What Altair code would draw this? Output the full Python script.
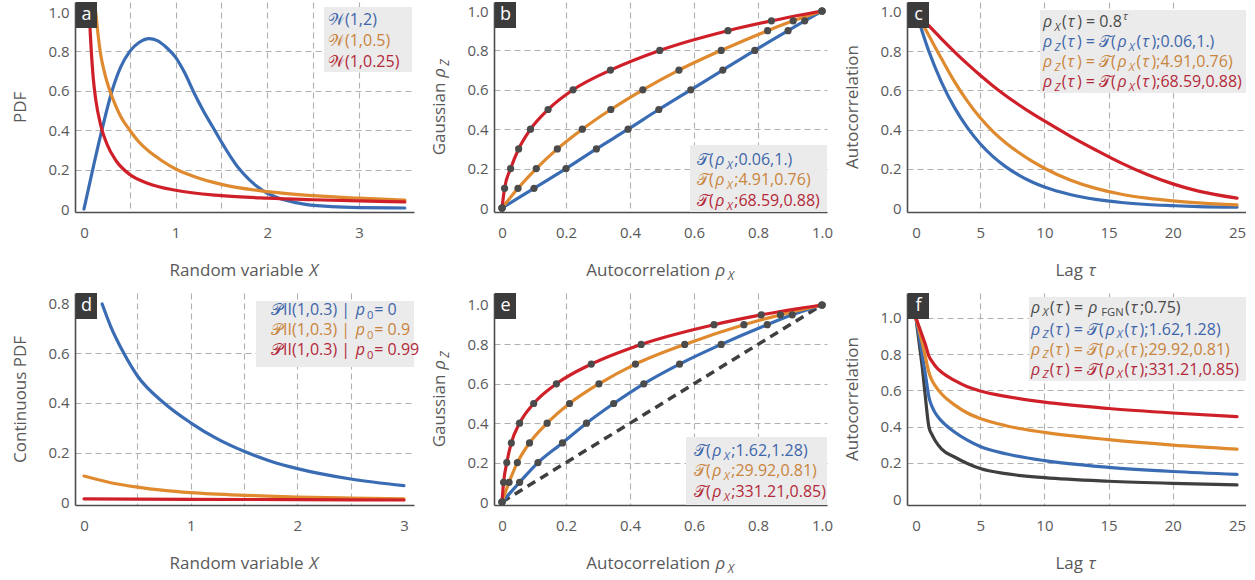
import altair as alt
import pandas as pd

FONT = "Open Sans"
AX_GRAY = "#595959"
BLUE, ORANGE, RED, BLACK = "#3a6cb4", "#df8a2f", "#cf2029", "#3f3f3f"
T_BLUE, T_ORANGE, T_RED, T_GRAY = "#3e66aa", "#c9843d", "#b3293a", "#4a4a4a"
KEY_FILL = "#ebebeb"
TAG_FILL = "#3b3b3b"
DOT = "#4b4b4b"

# ---------------- (a) Weibull densities ----------------
a_x_w12 = [0, 0.1, 0.2, 0.3, 0.4, 0.5, 0.6, 0.71, 0.8, 0.9, 1.0, 1.1, 1.2, 1.3, 1.4,
           1.5, 1.6, 1.7, 1.8, 1.9, 2.0, 2.1, 2.2, 2.4, 2.7, 3.0, 3.5]
a_y_w12 = [0, 0.21, 0.41, 0.59, 0.72, 0.80, 0.845, 0.865, 0.855, 0.82, 0.77, 0.69, 0.59, 0.50, 0.42,
           0.34, 0.265, 0.20, 0.15, 0.11, 0.08, 0.06, 0.045, 0.025, 0.012, 0.007, 0.005]
a_x_w105 = [0.128, 0.15, 0.18, 0.22, 0.29, 0.35, 0.4, 0.5, 0.6, 0.73, 0.85, 1.0, 1.2, 1.5, 2.0, 2.5, 3.0, 3.5]
a_y_w105 = [1.0, 0.90, 0.79, 0.70, 0.59, 0.52, 0.47, 0.40, 0.34, 0.285, 0.245, 0.203, 0.165, 0.125, 0.088, 0.068, 0.055, 0.045]
a_x_w1025 = [0.058, 0.07, 0.08, 0.1, 0.13, 0.18, 0.25, 0.35, 0.5, 0.7, 1.0, 1.5, 2.0, 2.5, 3.0, 3.5]
a_y_w1025 = [1.0, 0.88, 0.80, 0.67, 0.55, 0.43, 0.33, 0.245, 0.175, 0.13, 0.095, 0.068, 0.055, 0.047, 0.041, 0.036]

# ---------------- (b) transformation curves, first set ----------------
rho_z_levels = [0, 0.1, 0.2, 0.3, 0.4, 0.5, 0.6, 0.7, 0.8, 0.9, 0.95, 1.0]
b_x_blue = [0, 0.10, 0.20, 0.295, 0.394, 0.49, 0.59, 0.69, 0.79, 0.894, 0.946, 1.0]
b_x_orange = [0, 0.05, 0.107, 0.173, 0.251, 0.34, 0.44, 0.553, 0.685, 0.83, 0.91, 1.0]
b_x_red = [0, 0.008, 0.027, 0.052, 0.089, 0.144, 0.222, 0.339, 0.493, 0.706, 0.842, 1.0]

# ---------------- (c) autocorrelation for rho_X = 0.8^tau ----------------
c_tau = [0, 1, 2, 3, 4, 5, 6, 7, 8, 9, 10, 12, 14, 16, 18, 20, 22, 25]
c_blue = [1.0, 0.80, 0.64, 0.512, 0.41, 0.328, 0.262, 0.21, 0.168, 0.134, 0.107,
          0.069, 0.044, 0.028, 0.018, 0.012, 0.007, 0.004]
c_orange = [1.0, 0.88, 0.76, 0.645, 0.545, 0.46, 0.39, 0.332, 0.283, 0.24, 0.203,
            0.143, 0.10, 0.07, 0.05, 0.036, 0.026, 0.016]
c_red = [1.0, 0.93, 0.862, 0.797, 0.735, 0.677, 0.623, 0.573, 0.527, 0.484, 0.444,
         0.367, 0.296, 0.229, 0.171, 0.123, 0.086, 0.05]

# ---------------- (d) Pareto II continuous parts ----------------
d_x_p0 = [0.17, 0.25, 0.375, 0.5, 0.75, 1.0, 1.25, 1.5, 1.75, 2.0, 2.5, 3.0]
d_y_p0 = [0.80, 0.71, 0.60, 0.51, 0.40, 0.32, 0.255, 0.205, 0.165, 0.135, 0.093, 0.066]
d_x_p09 = [0, 0.25, 0.5, 0.75, 1.0, 1.5, 2.0, 2.5, 3.0]
d_y_p09 = [0.105, 0.078, 0.06, 0.047, 0.038, 0.027, 0.02, 0.016, 0.013]
d_x_p099 = [0, 1, 2, 3]
d_y_p099 = [0.013, 0.011, 0.0095, 0.008]

# ---------------- (e) transformation curves, second set ----------------
e_x_blue = [0, 0.055, 0.1125, 0.189, 0.264, 0.349, 0.443, 0.555, 0.685, 0.829, 0.907, 1.0]
e_x_orange = [0, 0.022, 0.048, 0.086, 0.141, 0.211, 0.303, 0.417, 0.571, 0.756, 0.87, 1.0]
e_x_red = [0, 0.005, 0.015, 0.029, 0.055, 0.099, 0.17, 0.279, 0.435, 0.6625, 0.81, 1.0]
e_diag = [0, 1]

# ---------------- (f) fractional Gaussian noise autocorrelation ----------------
f_tau = [0, 0.25, 0.5, 0.75, 1, 1.25, 1.5, 2, 3, 4, 5, 7, 10, 15, 20, 25]
f_black = [1.0, 0.86, 0.72, 0.55, 0.40, 0.355, 0.322, 0.276, 0.232, 0.196, 0.168, 0.14, 0.118, 0.098, 0.086, 0.078]
f_blue = [1.0, 0.9, 0.79, 0.68, 0.565, 0.51, 0.475, 0.43, 0.37, 0.325, 0.29, 0.25, 0.212, 0.175, 0.152, 0.136]
f_orange = [1.0, 0.93, 0.86, 0.78, 0.70, 0.655, 0.625, 0.58, 0.52, 0.475, 0.445, 0.405, 0.368, 0.328, 0.298, 0.276]
f_red = [1.0, 0.95, 0.9, 0.85, 0.79, 0.76, 0.735, 0.70, 0.655, 0.62, 0.597, 0.567, 0.535, 0.5, 0.475, 0.455]

# ---------------- text helpers ----------------
CHAR_EM = {
    " ": 0.26, "(": 0.3, ")": 0.3, ",": 0.245, ".": 0.266, ";": 0.266, "=": 0.572,
    "|": 0.54, "I": 0.28, "X": 0.6, "Z": 0.58, "F": 0.55, "G": 0.7, "N": 0.78,
    "P": 0.618, "D": 0.716, "L": 0.533, "C": 0.63, "R": 0.62, "A": 0.633,
    "a": 0.556, "b": 0.613, "c": 0.476, "d": 0.613, "e": 0.561, "g": 0.548, "i": 0.253,
    "l": 0.253, "m": 0.93, "n": 0.614, "o": 0.604, "p": 0.64, "r": 0.408, "s": 0.477,
    "t": 0.353, "u": 0.614, "v": 0.5, "ρ": 0.66, "τ": 0.53,
    "𝒯": 0.78, "𝒲": 1.05, "𝒫": 0.8,
}
for _d in "0123456789":
    CHAR_EM[_d] = 0.572

SEG_GAP = 0.9  # breathing room between consecutive rich-text pieces


def seg_width(txt, size):
    return sum(CHAR_EM.get(ch, 0.56) for ch in txt) * size


def set_line(segs, size, color, x0=None, y0=None, cx=None, cy=None, angle=0):
    """Lay out rich-text pieces (text, style, shift, lead) one after another."""
    sizes = [size * (0.7 if sg[2] else 1.0) for sg in segs]
    total = sum(seg_width(sg[0], s) + SEG_GAP + sg[3] for sg, s in zip(segs, sizes)) - SEG_GAP
    if angle == 0:
        if x0 is None:
            x0 = cx - total / 2
    else:
        if y0 is None:
            y0 = cy + total / 2
    rows, s = [], 0.0
    for (txt, style, shift, lead), fs in zip(segs, sizes):
        s += lead
        off = {"": 0.0, "sub": 0.24 * size, "sup": -0.42 * size}[shift]
        if angle == 0:
            px, py = x0 + s, y0 + off
        else:
            px, py = x0 + off, y0 - s
        rows.append(dict(px=px, py=py, t=txt, style=style, fs=fs, color=color, angle=angle))
        s += seg_width(txt, fs) + SEG_GAP
    return rows


def P(t, st="n", sh="", lead=0.0):
    return (t, st, sh, lead)


RHO_X = [P("ρ", "i"), P("X", "i", "sub")]
RHO_Z = [P("ρ", "i"), P("Z", "i", "sub")]
TAU = P("τ", "i")


def t_line(params):
    return [P("𝒯(")] + RHO_X + [P(";" + params + ")")]


def tz_line(params):
    return (RHO_Z + [P("("), TAU, P(") = 𝒯(")] + RHO_X +
            [P("("), TAU, P(");" + params + ")")])


FMT_INT = "format(datum.value, 'd')"
FMT_DEC = "(datum.value == 0 ? '0' : format(datum.value, '.1f'))"
KEY_SIZE = 16.0
X_LABEL_PAD = 13


def guide_layers(xs, ys, xdom, ydom, xt, xg, xfmt, yt, yg, yfmt):
    """Two invisible layers: one carries the dashed grid, the other the labelled axes."""
    mid = pd.DataFrame({"x": [sum(xdom) / 2], "y": [sum(ydom) / 2]})
    grid = alt.Chart(mid).mark_point(opacity=0, size=1).encode(
        x=alt.X("x:Q", scale=xs, axis=alt.Axis(values=xg, grid=True, labels=False, domain=False,
                                               ticks=False, title=None, orient="bottom")),
        y=alt.Y("y:Q", scale=ys, axis=alt.Axis(values=yg, grid=True, labels=False, domain=False,
                                               ticks=False, title=None, orient="left")))
    lab = alt.Chart(mid).mark_point(opacity=0, size=1).encode(
        x=alt.X("x:Q", scale=xs, axis=alt.Axis(values=xt, grid=False, labelExpr=xfmt, title=None,
                                               orient="bottom", labelPadding=X_LABEL_PAD,
                                               labelFlush=False, labelOverlap=False)),
        y=alt.Y("y:Q", scale=ys, axis=alt.Axis(values=yt, grid=False, labelExpr=yfmt, title=None,
                                               orient="left", labelPadding=6,
                                               labelFlush=False, labelOverlap=False)))
    return [grid, lab]


ONE = pd.DataFrame({"k": [0]})


def panel(tag, w, h, xdom, ydom, xaxis, yaxis, curves, dots, key_box, key_lines,
          xtitle, ytitle, dashed=None):
    xs = alt.Scale(domain=xdom, nice=False, zero=False)
    ys = alt.Scale(domain=ydom, nice=False, zero=False)
    xt, xg, xfmt = xaxis
    yt, yg, yfmt = yaxis
    layers = guide_layers(xs, ys, xdom, ydom, xt, xg, xfmt, yt, yg, yfmt)
    enc = dict(x=alt.X("x:Q", scale=xs, axis=None), y=alt.Y("y:Q", scale=ys, axis=None))
    if dashed is not None:
        df = pd.DataFrame({"x": dashed[0], "y": dashed[1]})
        layers.append(alt.Chart(df).mark_line(color=BLACK, strokeWidth=3.5, strokeDash=[9, 6])
                      .encode(**enc))
    for cx_, cy_, col in curves:
        df = pd.DataFrame({"x": cx_, "y": cy_})
        layers.append(alt.Chart(df).mark_line(color=col, strokeWidth=3.2, interpolate="monotone",
                                               strokeCap="round", clip=True).encode(**enc))
    if dots:
        dx, dy = [], []
        for xx, yy in dots:
            dx += xx
            dy += yy
        df = pd.DataFrame({"x": dx, "y": dy})
        layers.append(alt.Chart(df).mark_circle(color=DOT, size=52, opacity=1).encode(**enc))
    # key background
    bx0, bx1, by0, by1 = key_box
    layers.append(alt.Chart(ONE).mark_rect(color=KEY_FILL)
                  .encode(x=alt.value(bx0), x2=alt.value(bx1), y=alt.value(by0), y2=alt.value(by1)))
    # panel tag
    layers.append(alt.Chart(ONE).mark_rect(color=TAG_FILL)
                  .encode(x=alt.value(1), x2=alt.value(22), y=alt.value(0), y2=alt.value(26)))
    layers.append(alt.Chart(ONE).mark_text(text=tag, color="white", fontSize=18, font=FONT,
                                           align="center", baseline="middle")
                  .encode(x=alt.value(11.5), y=alt.value(12.5)))
    # rich text: key lines and axis titles
    rows = []
    for segs, color, x0, yc in key_lines:
        rows += set_line(segs, KEY_SIZE, color, x0=x0, y0=yc + 6)
    rows += set_line(xtitle, 17, AX_GRAY, cx=w / 2, y0=h + 64)
    rows += set_line(ytitle, 17, AX_GRAY, x0=-49, cy=h / 2, angle=270)
    tdf = pd.DataFrame(rows)
    tdf["vx"] = xdom[0] + tdf["px"] / w * (xdom[1] - xdom[0])
    tdf["vy"] = ydom[1] - tdf["py"] / h * (ydom[1] - ydom[0])
    for (style, fs, color, angle), g in tdf.groupby(["style", "fs", "color", "angle"]):
        layers.append(alt.Chart(g.reset_index(drop=True)).mark_text(
            font=FONT, fontSize=float(fs), fontStyle="italic" if style == "i" else "normal",
            color=color, angle=int(angle), align="left", baseline="alphabetic")
            .encode(x=alt.X("vx:Q", scale=xs, axis=None),
                    y=alt.Y("vy:Q", scale=ys, axis=None), text="t:N"))
    return (alt.layer(*layers).properties(width=w, height=h)
            .resolve_axis(x="independent", y="independent"))


Y01 = [0, 0.2, 0.4, 0.6, 0.8, 1.0]
GRID_IN = [0.2, 0.4, 0.6, 0.8]
LAGS = [0, 5, 10, 15, 20, 25]
LAG_GRID = [5, 10, 15, 20]

pa = panel(
    "a", 339, 210, [-0.098, 3.6], [-0.0152, 1.0508],
    ([0, 1, 2, 3], [0.5, 1, 1.5, 2, 2.5, 3], FMT_INT),
    (Y01, GRID_IN, FMT_DEC),
    [(a_x_w12, a_y_w12, BLUE), (a_x_w105, a_y_w105, ORANGE), (a_x_w1025, a_y_w1025, RED)],
    None, (249, 337, 5, 70),
    [([P("𝒲(1,2)")], T_BLUE, 253, 16.5),
     ([P("𝒲(1,0.5)")], T_ORANGE, 253, 38),
     ([P("𝒲(1,0.25)")], T_RED, 253, 58.5)],
    [P("Random variable "), P("X", "i")], [P("PDF")])

pb = panel(
    "b", 333, 210, [-0.025, 1.0156], [-0.0203, 1.0457],
    (Y01, GRID_IN, FMT_DEC),
    (Y01, GRID_IN, FMT_DEC),
    [(b_x_blue, rho_z_levels, BLUE), (b_x_orange, rho_z_levels, ORANGE), (b_x_red, rho_z_levels, RED)],
    [(b_x_blue, rho_z_levels), (b_x_orange, rho_z_levels), (b_x_red, rho_z_levels)],
    (196, 333, 143, 210),
    [(t_line("0.06,1."), T_BLUE, 203, 157),
     (t_line("4.91,0.76"), T_ORANGE, 203, 177),
     (t_line("68.59,0.88"), T_RED, 203, 198)],
    [P("Autocorrelation ")] + RHO_X, [P("Gaussian ")] + RHO_Z)

pc = panel(
    "c", 339, 210, [-0.701, 25.70], [-0.0204, 1.051],
    (LAGS, LAG_GRID, FMT_INT),
    (Y01, GRID_IN, FMT_DEC),
    [(c_tau, c_blue, BLUE), (c_tau, c_orange, ORANGE), (c_tau, c_red, RED)],
    None, (133, 339, 8, 91),
    [(RHO_X + [P("("), TAU, P(") = 0.8"), P("τ", "i", "sup")], T_GRAY, 136, 19),
     (tz_line("0.06,1."), T_BLUE, 136, 39),
     (tz_line("4.91,0.76"), T_ORANGE, 136, 59),
     (tz_line("68.59,0.88"), T_RED, 136, 79)],
    [P("Lag "), TAU], [P("Autocorrelation")])

pd_ = panel(
    "d", 339, 212, [-0.0844, 3.094], [-0.0121, 0.8444],
    ([0, 1, 2, 3], [0.5, 1, 1.5, 2, 2.5], FMT_INT),
    ([0, 0.2, 0.4, 0.6, 0.8], [0.2, 0.4, 0.6], FMT_DEC),
    [(d_x_p0, d_y_p0, BLUE), (d_x_p09, d_y_p09, ORANGE), (d_x_p099, d_y_p099, RED)],
    None, (181, 339, 8, 74),
    [([P("𝒫II(1,0.3) | "), P("p", "i"), P("0", "n", "sub"), P(" = 0")], T_BLUE, 196, 16),
     ([P("𝒫II(1,0.3) | "), P("p", "i"), P("0", "n", "sub"), P(" = 0.9")], T_ORANGE, 196, 36),
     ([P("𝒫II(1,0.3) | "), P("p", "i"), P("0", "n", "sub"), P(" = 0.99")], T_RED, 196, 56)],
    [P("Random variable "), P("X", "i")], [P("Continuous PDF")])

pe = panel(
    "e", 333, 212, [-0.025, 1.0156], [-0.0152, 1.0609],
    (Y01, GRID_IN, FMT_DEC),
    (Y01, GRID_IN, FMT_DEC),
    [(e_x_blue, rho_z_levels, BLUE), (e_x_orange, rho_z_levels, ORANGE), (e_x_red, rho_z_levels, RED)],
    [(e_x_blue, rho_z_levels), (e_x_orange, rho_z_levels), (e_x_red, rho_z_levels)],
    (192, 333, 144, 212),
    [(t_line("1.62,1.28"), T_BLUE, 200, 157),
     (t_line("29.92,0.81"), T_ORANGE, 200, 177),
     (t_line("331.21,0.85"), T_RED, 200, 198)],
    [P("Autocorrelation ")] + RHO_X, [P("Gaussian ")] + RHO_Z,
    dashed=(e_diag, e_diag))

pf = panel(
    "f", 339, 212, [-0.701, 25.70], [-0.0331, 1.1381],
    (LAGS, LAG_GRID, FMT_INT),
    (Y01, [0.2, 0.4, 0.6, 0.8, 1.0], FMT_DEC),
    [(f_tau, f_black, BLACK), (f_tau, f_blue, BLUE), (f_tau, f_orange, ORANGE), (f_tau, f_red, RED)],
    None, (122, 339, 4, 88),
    [(RHO_X + [P("("), TAU, P(") = "), P("ρ", "i"), P("FGN", "n", "sub", 1.5), P("("), TAU,
               P(";0.75)")],
      T_GRAY, 124, 13.5),
     (tz_line("1.62,1.28"), T_BLUE, 124, 35.5),
     (tz_line("29.92,0.81"), T_ORANGE, 124, 55.5),
     (tz_line("331.21,0.85"), T_RED, 124, 75.5)],
    [P("Lag "), TAU], [P("Autocorrelation")])

chart = (
    alt.concat(pa, pb, pc, pd_, pe, pf, columns=3, spacing={"row": 81, "column": 80})
    .properties(bounds="flush", padding={"left": 11, "top": 2, "right": 0, "bottom": 0})
    .configure_view(stroke=None)
    .configure_axis(
        labelFont=FONT, labelFontSize=15, labelColor=AX_GRAY,
        domainColor="#4d4d4d", domainWidth=1.6, ticks=False,
        gridColor="#b0b0b0", gridDash=[6, 4], gridWidth=1.1,
    )
)

chart.save("out.html", embed_options={"renderer": "svg", "actions": False})
